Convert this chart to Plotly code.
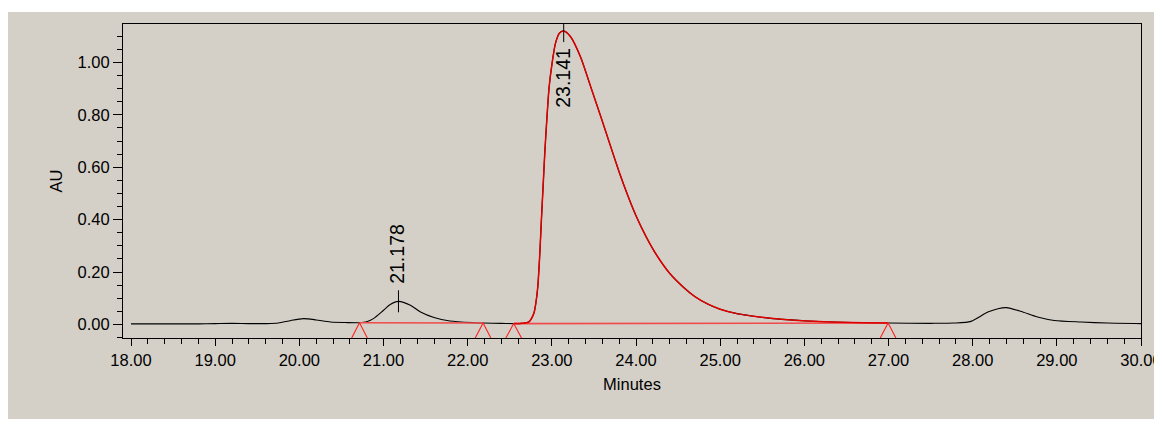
import numpy as np
import plotly.graph_objects as go

# ---- data ----
time_min = [18.00, 18.40, 18.80, 19.00, 19.20, 19.40, 19.60, 19.75, 19.90, 20.05,
            20.20, 20.37, 20.55, 20.715, 20.80, 20.88, 21.00, 21.08, 21.178, 21.32,
            21.44, 21.60, 21.79, 22.07, 22.183, 22.40, 22.547, 22.65, 22.725, 22.785,
            22.809, 22.833, 22.857, 22.876, 22.896, 22.916, 22.940, 22.968, 23.003, 23.043,
            23.090, 23.141, 23.221, 23.34, 23.459, 23.58, 23.70, 23.80, 23.90, 24.00,
            24.12, 24.25, 24.40, 24.57, 24.70, 24.85, 25.00, 25.20, 25.40, 25.60,
            25.80, 26.04, 26.43, 26.70, 26.995, 27.50, 27.78, 27.98, 28.18, 28.30,
            28.40, 28.57, 28.77, 28.97, 29.29, 29.60, 30.00]
au = [0.002, 0.002, 0.002, 0.003, 0.004, 0.003, 0.003, 0.005, 0.015, 0.022,
      0.017, 0.009, 0.007, 0.0065, 0.010, 0.022, 0.054, 0.076, 0.088, 0.073,
      0.047, 0.026, 0.013, 0.0065, 0.005, 0.004, 0.003, 0.004, 0.009, 0.041,
      0.079, 0.143, 0.270, 0.398, 0.525, 0.653, 0.780, 0.907, 0.997, 1.073,
      1.112, 1.120, 1.099, 1.022, 0.910, 0.795, 0.678, 0.582, 0.494, 0.415,
      0.335, 0.262, 0.195, 0.140, 0.106, 0.078, 0.058, 0.041, 0.031, 0.023,
      0.018, 0.013, 0.008, 0.006, 0.005, 0.004, 0.005, 0.0115, 0.047, 0.060,
      0.064, 0.050, 0.028, 0.015, 0.009, 0.005, 0.003]

peak_times = [21.178, 23.141]
peak_heights = [0.088, 1.120]
peak_labels = ["21.178", "23.141"]
peak_label_shift = [48, -47]

event_times = [20.715, 22.183, 22.547, 26.995]
event_values = [0.0065, 0.005, 0.003, 0.005]
baseline_pairs = [(0, 1), (2, 3)]

main_start, main_end = 22.547, 26.995

x_ticks = [18, 19, 20, 21, 22, 23, 24, 25, 26, 27, 28, 29, 30]
x_ticklabels = [f"{v:.2f}" for v in x_ticks]
y_ticks = [0.0, 0.2, 0.4, 0.6, 0.8, 1.0]
y_ticklabels = [f"{v:.2f}" for v in y_ticks]

X_RANGE = [17.905, 30.0]
Y_RANGE = [-0.052, 1.147]

BG = "#d4d0c8"
RED = "#e00000"
FONT = "Liberation Sans, Arial, sans-serif"

t = np.array(time_min)
v = np.array(au)

fig = go.Figure()

# full chromatogram (black)
fig.add_trace(go.Scatter(x=t, y=v, mode="lines",
                         line=dict(color="black", width=1.1, shape="spline", smoothing=0.7),
                         hoverinfo="skip", showlegend=False))

# integration baselines
for a, b in baseline_pairs:
    fig.add_trace(go.Scatter(x=[event_times[a], event_times[b]],
                             y=[event_values[a], event_values[b]], mode="lines",
                             line=dict(color="#f04a4a", width=1.6),
                             hoverinfo="skip", showlegend=False))

# main integrated peak (red overlay)
m = (t >= main_start) & (t <= main_end)
fig.add_trace(go.Scatter(x=t[m], y=v[m], mode="lines",
                         line=dict(color=RED, width=1.5, shape="spline", smoothing=0.7),
                         hoverinfo="skip", showlegend=False))

# event triangles
half_w = 0.093
tx, ty = [], []
for e, ev in zip(event_times, event_values):
    tx += [e - half_w, e, e + half_w, None]
    ty += [Y_RANGE[0], ev, Y_RANGE[0], None]
fig.add_trace(go.Scatter(x=tx, y=ty, mode="lines",
                         line=dict(color="#ff2020", width=1.1),
                         hoverinfo="skip", showlegend=False))

# peak apex ticks
px, py = [], []
for pt, ph in zip(peak_times, peak_heights):
    px += [pt, pt, None]
    py += [ph - 0.042, ph + 0.042, None]
fig.add_trace(go.Scatter(x=px, y=py, mode="lines",
                         line=dict(color="black", width=1),
                         hoverinfo="skip", showlegend=False))

for pt, ph, lab, sh in zip(peak_times, peak_heights, peak_labels, peak_label_shift):
    fig.add_annotation(x=pt, y=ph, text=lab, textangle=-90, showarrow=False,
                       xanchor="center", yanchor="middle", yshift=sh, xshift=-1,
                       font=dict(family=FONT, size=19.5, color="black"))

W, H = 1154, 411
ML, MR, MT, MB = 115, 21, 16, 81
pw, ph_ = W - ML - MR, H - MT - MB
# grey panel behind everything
fig.add_shape(type="rect", xref="paper", yref="paper", layer="below",
              x0=(0 - ML) / pw, x1=(1152 - ML) / pw,
              y0=-0.4, y1=(H - MB - 4) / ph_,
              fillcolor=BG, line=dict(width=0))

fig.update_layout(
    width=W, height=H,
    margin=dict(l=ML, r=MR, t=MT, b=MB, pad=0, autoexpand=False),
    paper_bgcolor="white", plot_bgcolor=BG,
    font=dict(family=FONT, size=16.5, color="black"),
    xaxis=dict(range=X_RANGE, tickmode="array", tickvals=x_ticks, ticktext=x_ticklabels,
               ticks="outside", ticklen=7, tickwidth=1, tickcolor="black",
               minor=dict(dtick=0.2, tick0=18, ticks="outside", ticklen=5, tickcolor="black"),
               showline=True, linecolor="black", linewidth=1.2, mirror=True,
               showgrid=False, zeroline=False, automargin=False,
               title=dict(text="Minutes", standoff=10, font=dict(size=16.5))),
    yaxis=dict(range=Y_RANGE, tickmode="array", tickvals=y_ticks, ticktext=y_ticklabels,
               ticks="outside", ticklen=9, tickwidth=1, tickcolor="black",
               minor=dict(dtick=0.05, tick0=0, ticks="outside", ticklen=5, tickcolor="black"),
               showline=True, linecolor="black", linewidth=1.2, mirror=True,
               showgrid=False, zeroline=False, automargin=False,
               title=dict(text="AU", standoff=10, font=dict(size=16.5))),
)

fig.write_html("out.html")
